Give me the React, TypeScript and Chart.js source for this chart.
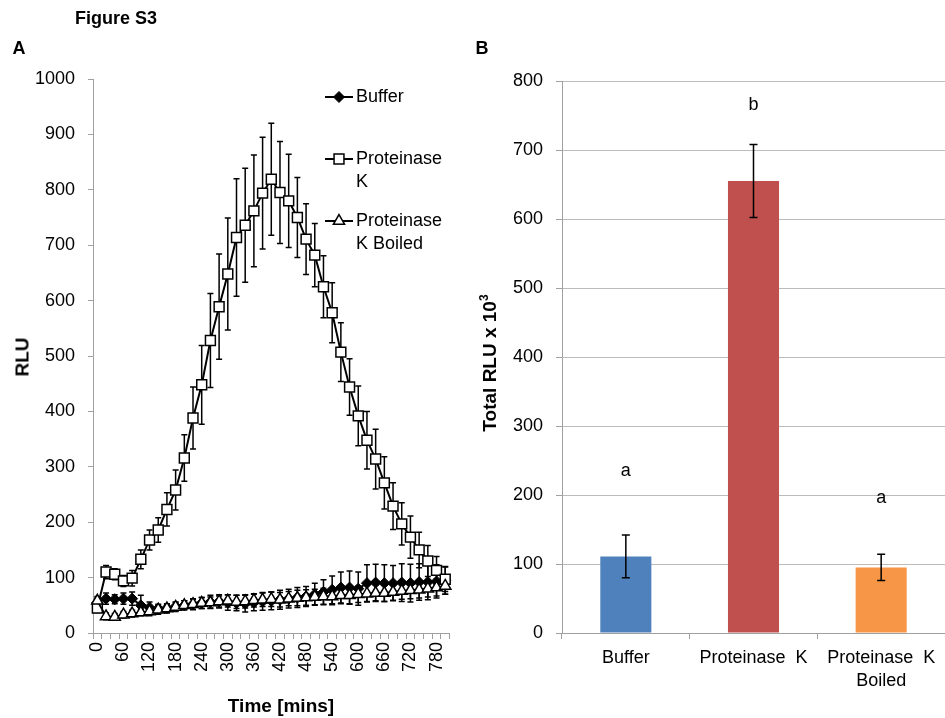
import React, { useEffect, useRef } from "react";
import { Chart, registerables } from "chart.js";

Chart.register(...registerables);

const FONT = "'Liberation Sans', Arial, Helvetica, sans-serif";

// ---------- Panel A data ----------
const timePoints = [
  "0", "20", "40", "60", "80", "100", "120", "140", "160", "180", "200",
  "220", "240", "260", "280", "300", "320", "340", "360", "380", "400",
  "420", "440", "460", "480", "500", "520", "540", "560", "580", "600",
  "620", "640", "660", "680", "700", "720", "740", "760", "780", "800",
];
const timeTickLabels = [
  "0", "60", "120", "180", "240", "300", "360", "420", "480", "540", "600", "660", "720", "780",
];

const bufferValues = [
  55, 62, 61, 62, 62, 50, 46, 44, 45, 48, 50, 52, 54, 56, 57, 55, 54, 53, 55, 57, 58,
  60, 62, 64, 66, 70, 74, 78, 82, 82, 80, 90, 91, 90, 90, 91, 90, 92, 92, 93, 95,
];
const bufferErrors = [
  8, 10, 8, 10, 12, 18, 10, 8, 8, 8, 8, 10, 10, 12, 12, 14, 14, 15, 15, 16, 16,
  17, 17, 18, 18, 20, 22, 25, 28, 30, 30, 33, 33, 33, 32, 34, 34, 33, 32, 30, 25,
];

const pkValues = [
  45, 110, 106, 94, 99, 133, 168, 186, 223, 258, 316, 388, 448, 528, 589, 648, 714, 736, 762, 794, 819,
  795, 780, 750, 711, 682, 625, 578, 507, 444, 392, 348, 314, 271, 229, 197, 173, 150, 130, 113, 97,
];
const pkErrors = [
  8, 12, 10, 10, 14, 17, 18, 22, 30, 36, 42, 56, 71, 85, 95, 101, 106, 103, 101, 101, 101,
  92, 84, 72, 64, 57, 56, 54, 53, 51, 54, 52, 54, 47, 42, 38, 38, 32, 28, 25, 22,
];

const boiledValues = [
  58, 30, 29, 33, 35, 37, 39, 42, 44, 47, 50, 52, 54, 55, 57, 58, 56, 57, 59, 60, 61,
  60, 62, 63, 64, 65, 66, 66, 68, 68, 70, 71, 72, 72, 74, 76, 77, 78, 80, 82, 85,
];
const boiledErrors = [
  8, 6, 6, 6, 6, 6, 8, 8, 8, 8, 8, 9, 10, 10, 10, 11, 12, 12, 12, 12, 13,
  13, 13, 14, 14, 14, 15, 15, 15, 15, 15, 15, 15, 15, 15, 15, 15, 15, 15, 15, 15,
];

const seriesNames = ["Buffer", "Proteinase K", "Proteinase K Boiled"];
const legendLines = [["Buffer"], ["Proteinase", "K"], ["Proteinase", "K Boiled"]];

// ---------- Panel B data ----------
const barCategories: (string | string[])[] = ["Buffer", "Proteinase  K", ["Proteinase  K", "Boiled"]];
const barTotals = [111, 655, 95];
const barErrors = [31, 53, 19];
const barColors = ["#4F81BD", "#C0504D", "#F79646"];
const sigLetters = ["a", "b", "a"];
const sigLevels = [235, 765, 195];

// ---------- plugins ----------
function drawErrorBars(chart: any, opts: any) {
  const ctx = chart.ctx;
  chart.data.datasets.forEach((ds: any, di: number) => {
    const errs = ds.errors;
    if (!errs) return;
    const meta = chart.getDatasetMeta(di);
    const yScale = chart.scales[meta.yAxisID];
    ctx.save();
    ctx.strokeStyle = opts.color || "#000";
    ctx.lineWidth = opts.width || 1;
    meta.data.forEach((el: any, i: number) => {
      const v = ds.data[i];
      const e = errs[i];
      const x = el.x;
      const yt = yScale.getPixelForValue(v + e);
      const yb = yScale.getPixelForValue(v - e);
      const cap = opts.cap || 3;
      ctx.beginPath();
      ctx.moveTo(x, yt);
      ctx.lineTo(x, yb);
      ctx.moveTo(x - cap, yt);
      ctx.lineTo(x + cap, yt);
      ctx.moveTo(x - cap, yb);
      ctx.lineTo(x + cap, yb);
      ctx.stroke();
    });
    ctx.restore();
  });
}

const errorBarPlugin = {
  id: "errorBars",
  beforeDatasetsDraw(chart: any, _args: any, opts: any) {
    if (opts.phase === "before") drawErrorBars(chart, opts);
  },
  afterDatasetsDraw(chart: any, _args: any, opts: any) {
    if (opts.phase === "after") drawErrorBars(chart, opts);
  },
};

function drawMarker(ctx: CanvasRenderingContext2D, style: string, x: number, y: number, r: number) {
  ctx.beginPath();
  if (style === "rect") {
    const h = r * Math.SQRT1_2;
    ctx.rect(x - h, y - h, 2 * h, 2 * h);
  } else if (style === "rectRot") {
    ctx.moveTo(x, y - r);
    ctx.lineTo(x + r, y);
    ctx.lineTo(x, y + r);
    ctx.lineTo(x - r, y);
    ctx.closePath();
  } else if (style === "triangle") {
    for (let k = 0; k < 3; k++) {
      const a = (k * 2 * Math.PI) / 3;
      const px = x + Math.sin(a) * r;
      const py = y - Math.cos(a) * r;
      if (k === 0) ctx.moveTo(px, py);
      else ctx.lineTo(px, py);
    }
    ctx.closePath();
  } else {
    ctx.arc(x, y, r, 0, Math.PI * 2);
  }
  ctx.fill();
  ctx.stroke();
}

const sideLegendPlugin = {
  id: "sideLegend",
  afterDraw(chart: any, _args: any, opts: any) {
    const ctx = chart.ctx;
    ctx.save();
    chart.data.datasets.forEach((ds: any, i: number) => {
      const y = opts.ys[i];
      const x0 = opts.x;
      const x1 = opts.x + opts.lineLen;
      ctx.strokeStyle = ds.borderColor;
      ctx.lineWidth = ds.borderWidth;
      ctx.beginPath();
      ctx.moveTo(x0, y);
      ctx.lineTo(x1, y);
      ctx.stroke();
      ctx.fillStyle = ds.pointBackgroundColor;
      ctx.strokeStyle = ds.pointBorderColor;
      ctx.lineWidth = ds.pointBorderWidth;
      drawMarker(ctx, ds.pointStyle, (x0 + x1) / 2, y, ds.pointRadius);
      ctx.fillStyle = "#000";
      ctx.font = `${opts.fontSize}px ${FONT}`;
      ctx.textAlign = "left";
      ctx.textBaseline = "middle";
      legendLines[i].forEach((line, li) => {
        ctx.fillText(line, x1 + opts.textGap, y + li * opts.lineHeight);
      });
    });
    ctx.restore();
  },
};

const letterPlugin = {
  id: "sigLetters",
  afterDatasetsDraw(chart: any, _args: any, opts: any) {
    const ctx = chart.ctx;
    const meta = chart.getDatasetMeta(0);
    const yScale = chart.scales.y;
    ctx.save();
    ctx.fillStyle = "#000";
    ctx.font = `${opts.fontSize}px ${FONT}`;
    ctx.textAlign = "center";
    ctx.textBaseline = "middle";
    meta.data.forEach((el: any, i: number) => {
      ctx.fillText(sigLetters[i], el.x, yScale.getPixelForValue(sigLevels[i]));
    });
    ctx.restore();
  },
};

const AXIS_GRAY = "#a0a0a0";

function Label(props: { x: number; y: number; size: number; bold?: boolean; rotate?: number; children: any }) {
  return (
    <div
      style={{
        position: "absolute",
        left: props.x,
        top: props.y,
        transform: `translate(-50%, -50%) rotate(${props.rotate || 0}deg)`,
        fontSize: props.size,
        lineHeight: `${props.size}px`,
        fontWeight: props.bold ? "bold" : "normal",
        whiteSpace: "nowrap",
        color: "#000",
        fontFamily: FONT,
      }}
    >
      {props.children}
    </div>
  );
}

export default function App() {
  const aRef = useRef<HTMLCanvasElement>(null);
  const bRef = useRef<HTMLCanvasElement>(null);

  useEffect(() => {
    Chart.defaults.font.family = FONT;
    Chart.defaults.color = "#000";

    const chartA = new Chart(aRef.current as HTMLCanvasElement, {
      type: "line",
      data: {
        labels: timePoints,
        datasets: [
          {
            label: seriesNames[0],
            data: bufferValues,
            errors: bufferErrors,
            borderColor: "#000",
            borderWidth: 2,
            pointStyle: "rectRot",
            pointRadius: 5.5,
            pointBackgroundColor: "#000",
            pointBorderColor: "#000",
            pointBorderWidth: 1,
            fill: false,
            tension: 0,
            order: 2,
          } as any,
          {
            label: seriesNames[1],
            data: pkValues,
            errors: pkErrors,
            borderColor: "#000",
            borderWidth: 2,
            pointStyle: "rect",
            pointRadius: 7,
            pointBackgroundColor: "#fff",
            pointBorderColor: "#000",
            pointBorderWidth: 1.5,
            fill: false,
            tension: 0,
            order: 1,
          } as any,
          {
            label: seriesNames[2],
            data: boiledValues,
            errors: boiledErrors,
            borderColor: "#000",
            borderWidth: 2,
            pointStyle: "triangle",
            pointRadius: 6.5,
            pointBackgroundColor: "#fff",
            pointBorderColor: "#000",
            pointBorderWidth: 1.5,
            fill: false,
            tension: 0,
            order: 0,
          } as any,
        ],
      },
      options: {
        responsive: false,
        animation: false,
        events: [],
        layout: { padding: { top: 79, right: 14, bottom: 0, left: 0 } },
        plugins: {
          legend: { display: false },
          tooltip: { enabled: false },
          errorBars: { phase: "before", color: "#000", width: 1.5, cap: 3 },
          sideLegend: { x: 325, lineLen: 28, textGap: 3, ys: [97, 159, 221], lineHeight: 23.5, fontSize: 18 },
        } as any,
        scales: {
          x: {
            type: "category",
            offset: true,
            grid: { offset: true, drawOnChartArea: false, drawTicks: true, tickLength: 6, color: AXIS_GRAY },
            border: { color: AXIS_GRAY, width: 1 },
            ticks: {
              autoSkip: false,
              maxRotation: 90,
              minRotation: 90,
              padding: 3,
              font: { size: 18 },
              color: "#000",
              callback: (_v: any, i: number) =>
                timeTickLabels.includes(timePoints[i]) ? timePoints[i] : "",
            },
            afterFit: (scale: any) => {
              scale.height = 718 - 633;
            },
          },
          y: {
            min: 0,
            max: 1000,
            grid: { drawOnChartArea: false, drawTicks: true, tickLength: 5, color: AXIS_GRAY },
            border: { color: AXIS_GRAY, width: 1 },
            ticks: {
              stepSize: 100,
              padding: 13,
              font: { size: 18 },
              color: "#000",
              callback: (v: any) => String(v),
            },
            afterFit: (scale: any) => {
              scale.width = 93;
            },
          },
        },
      },
      plugins: [errorBarPlugin, sideLegendPlugin],
    });

    const chartB = new Chart(bRef.current as HTMLCanvasElement, {
      type: "bar",
      data: {
        labels: barCategories,
        datasets: [
          {
            label: "Total RLU",
            data: barTotals,
            errors: barErrors,
            backgroundColor: barColors,
            borderWidth: 0,
            barPercentage: 0.4,
            categoryPercentage: 1,
          } as any,
        ],
      },
      options: {
        responsive: false,
        animation: false,
        events: [],
        layout: { padding: { top: 81, right: 0, bottom: 0, left: 0 } },
        plugins: {
          legend: { display: false },
          tooltip: { enabled: false },
          errorBars: { phase: "after", color: "#000", width: 1.5, cap: 4 },
          sigLetters: { fontSize: 18 },
        } as any,
        scales: {
          x: {
            grid: { offset: true, drawOnChartArea: false, drawTicks: true, tickLength: 6, color: AXIS_GRAY },
            border: { color: AXIS_GRAY, width: 1 },
            ticks: { autoSkip: false, maxRotation: 0, minRotation: 0, padding: 8, font: { size: 18, lineHeight: 1.25 }, color: "#000" },
            afterFit: (scale: any) => {
              scale.height = 718 - 633;
            },
          },
          y: {
            min: 0,
            max: 800,
            grid: { color: "#bcbcbc", drawTicks: true, tickLength: 6, tickColor: AXIS_GRAY },
            border: { color: AXIS_GRAY, width: 1 },
            ticks: { stepSize: 100, padding: 13, font: { size: 18 }, color: "#000", callback: (v: any) => String(v) },
            afterFit: (scale: any) => {
              scale.width = 92;
            },
          },
        },
      },
      plugins: [errorBarPlugin, letterPlugin],
    });

    return () => {
      chartA.destroy();
      chartB.destroy();
    };
  }, []);

  return (
    <div
      style={{
        position: "absolute",
        left: 0,
        top: 0,
        width: 945,
        height: 718,
        background: "#fff",
        overflow: "hidden",
        fontFamily: FONT,
      }}
    >
      <canvas
        ref={aRef}
        width={470}
        height={718}
        style={{ position: "absolute", left: 0, top: 0, width: 470, height: 718 }}
      />
      <canvas
        ref={bRef}
        width={475}
        height={718}
        style={{ position: "absolute", left: 470, top: 0, width: 475, height: 718 }}
      />
      <Label x={116} y={18} size={18} bold>
        Figure S3
      </Label>
      <Label x={19} y={48} size={18} bold>
        A
      </Label>
      <Label x={482} y={48} size={18} bold>
        B
      </Label>
      <Label x={22} y={357} size={19} bold rotate={-90}>
        RLU
      </Label>
      <Label x={281} y={705} size={19} bold>
        Time [mins]
      </Label>
      <Label x={489} y={363} size={19} bold rotate={-90}>
        Total RLU x 10<sup style={{ fontSize: 12, lineHeight: 0, verticalAlign: "super" }}>3</sup>
      </Label>
    </div>
  );
}
